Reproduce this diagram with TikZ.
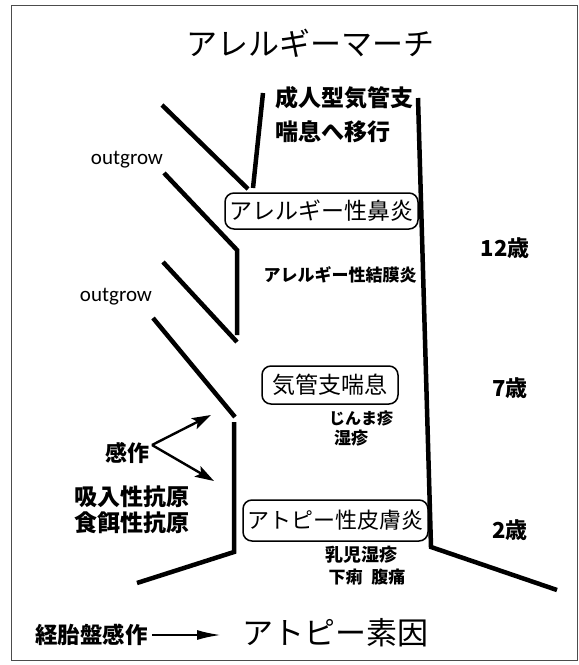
\documentclass[tikz,border=0pt]{standalone}
\usepackage{fontspec}
\newfontfamily\jp{Noto Sans CJK JP}
\newcommand\jpb{\jp\bfseries}
\newfontfamily\carl{Carlito}
\usetikzlibrary{arrows.meta}
\begin{document}
\begin{tikzpicture}[x=1pt,y=-1pt,
  thick line/.style={line width=4.5pt},
  txt/.style={inner sep=0pt,font=#1},
  roundbox/.style={draw,line width=1.5pt,rounded corners=9pt,inner sep=0pt,font=#1},
  sens/.style={line width=2.4pt,-{Stealth[length=19pt,width=12pt,inset=4pt]}},
]
\useasboundingbox (0,0) rectangle (579,665);
\draw[line width=1pt,black!70] (11,5) rectangle (577,660);

% texts
\node[txt=\jp\fontsize{31}{31}\selectfont] (title) at (310,43) {アレルギーマーチ};
\node[txt=\jpb\fontsize{23}{23}\selectfont,anchor=west] (seijin) at (275,98) {成人型気管支};
\node[txt=\jpb\fontsize{23}{23}\selectfont,anchor=west] (zensoku) at (275,132) {喘息へ移行};
\node[txt=\carl\fontsize{21}{21}\selectfont] (og1) at (127,160) {outgrow};
\node[txt=\carl\fontsize{21}{21}\selectfont] (og2) at (116,297) {outgrow};
\node[roundbox=\jp\fontsize{23}{23}\selectfont,minimum width=193pt,minimum height=36pt] (bikoen) at (321.5,211) {アレルギー性鼻炎};
\node[txt=\jpb\fontsize{17}{17}\selectfont] (ketsu) at (340,275) {アレルギー性結膜炎};
\node[txt=\jpb\fontsize{22}{22}\selectfont] (age12) at (505,248) {12歳};
\node[roundbox=\jp\fontsize{23}{23}\selectfont,minimum width=136pt,minimum height=38pt] (zen) at (330,385) {気管支喘息};
\node[txt=\jpb\fontsize{16}{16}\selectfont] (jinma) at (361,418) {じんま疹};
\node[txt=\jpb\fontsize{17}{17}\selectfont] (shisshin) at (351,438) {湿疹};
\node[txt=\jpb\fontsize{22}{22}\selectfont] (age7) at (510,388) {7歳};
\node[txt=\jpb\fontsize{22}{22}\selectfont] (kansa) at (127,453) {感作};
\node[txt=\jpb\fontsize{23}{23}\selectfont] (kyunyu) at (132,497) {吸入性抗原};
\node[txt=\jpb\fontsize{23}{23}\selectfont] (shokuji) at (132,523) {食餌性抗原};
\node[roundbox=\jp\fontsize{22}{22}\selectfont,minimum width=185pt,minimum height=41pt] (atoderm) at (335.5,520.5) {アトピー性皮膚炎};
\node[txt=\jpb\fontsize{22}{22}\selectfont] (age2) at (510,530) {2歳};
\node[txt=\jpb\fontsize{18}{18}\selectfont] (nyuji) at (361,555) {乳児湿疹};
\node[txt=\jpb\fontsize{17}{17}\selectfont] (geri) at (367,577) {下痢\hspace{9pt}腹痛};
\node[txt=\jpb\fontsize{22.5}{22.5}\selectfont] (keitai) at (91.5,635) {経胎盤感作};
\node[txt=\jp\fontsize{31}{31}\selectfont] (soin) at (335,633) {アトピー素因};

% structure lines
\coordinate (a1) at (162,105); \coordinate (a2) at (248,189);
\coordinate (b1) at (253,188); \coordinate (b2) at (263,93);
\coordinate (c1) at (164,173); \coordinate (c2) at (237,250); \coordinate (c3) at (237,335);
\coordinate (d1) at (163,262); \coordinate (d2) at (237,342);
\coordinate (e1) at (153,318); \coordinate (e2) at (235,417);
\coordinate (f1) at (234,422); \coordinate (f2) at (234,552); \coordinate (f3) at (137,583);
\coordinate (g1) at (418,98); \coordinate (g2) at (431,547); \coordinate (g3) at (557,590);

\draw[thick line] (a1) -- (a2);
\draw[thick line] (b1) -- (b2);
\draw[thick line] (c1) -- (c2) -- (c3);
\draw[thick line] (d1) -- (d2);
\draw[thick line] (e1) -- (e2);
\draw[thick line] (f1) -- (f2) -- (f3);
\draw[thick line] (g1) -- (g2) -- (g3);

% sensitization arrows
\coordinate (k) at (152,445);
\coordinate (t1) at (211,415);
\coordinate (t2) at (214,481);
\draw[sens] (k) -- (t1);
\draw[sens] (k) -- (t2);

% bottom arrow
\coordinate (ae) at (221,635);
\draw[line width=2.2pt,-{Latex[length=24pt,width=10pt]},shorten <=4pt] (keitai.east) -- (ae);
\end{tikzpicture}
\end{document}
